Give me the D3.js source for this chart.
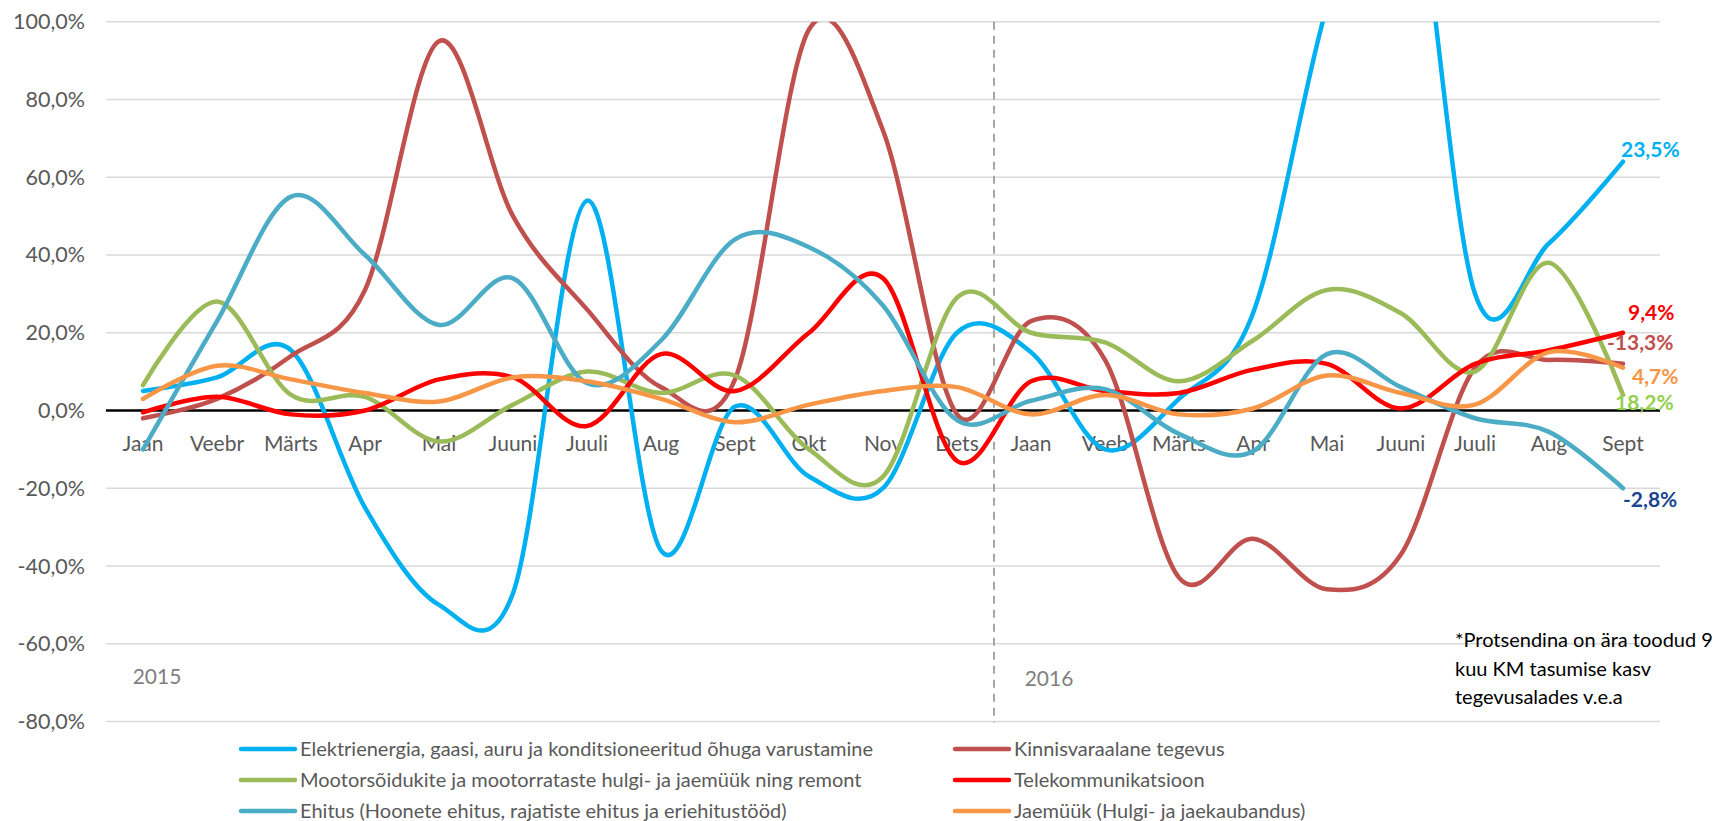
<!DOCTYPE html>
<html>
<head>
<meta charset="utf-8">
<script src="https://cdn.jsdelivr.net/npm/d3@7"></script>
<style>
  body { margin: 0; background: #fff; }
  svg { font-family: Lato, "Open Sans", sans-serif; }
</style>
</head>
<body>
<svg id="chart" width="1716" height="821"></svg>
<script>
// months, 2015 Jaan .. 2016 Sept
var months = ['Jaan','Veebr','Märts','Apr','Mai','Juuni','Juuli','Aug','Sept','Okt','Nov','Dets',
              'Jaan','Veeb','Märts','Apr','Mai','Juuni','Juuli','Aug','Sept'];
var years = ['2015', '2016'];
var yTicks = [-80, -60, -40, -20, 0, 20, 40, 60, 80, 100];

var seriesNames = [
  'Elektrienergia, gaasi, auru ja konditsioneeritud õhuga varustamine',
  'Kinnisvaraalane tegevus',
  'Mootorsõidukite ja mootorrataste hulgi- ja jaemüük ning remont',
  'Telekommunikatsioon',
  'Ehitus (Hoonete ehitus, rajatiste ehitus ja eriehitustööd)',
  'Jaemüük (Hulgi- ja jaekaubandus)'
];

var elekter    = [5, 8.5, 15.5, -25, -50, -47, 54, -36, 1, -17, -20, 20, 15, -10, 3, 25, 104, 155, 30, 43, 64];
var kinnisvara = [-2, 3, 14, 31, 95, 50, 26, 6, 8, 98, 72, -1, 23, 13, -43, -33, -46, -37, 11, 13, 12];
var mootor     = [6.5, 28, 4, 3.5, -8, 1.5, 10, 4.5, 9, -10, -17, 29, 20, 17.5, 7.5, 18, 31, 25, 10, 38, 4];
var telekom    = [-0.5, 3.5, -1, 0, 8, 8.5, -4, 14.5, 5, 20, 34, -13, 7.5, 5, 4.5, 10.5, 12, 0.5, 12, 15.5, 20];
var ehitus     = [-10, 23, 55, 40, 22, 34, 7, 18, 44, 42, 27, -2.5, 2.5, 5.5, -6, -10.5, 14.5, 6, -2, -5.5, -20];
var jaemyyk    = [3, 11.5, 8, 4.5, 2.3, 8.5, 7.5, 3, -3, 1.5, 5, 6, -1, 4, -1, 0.5, 9, 4.5, 1.5, 15, 11];

// labels shown at the end of each line (9 kuu kasv)
var endLabels = ['23,5%', '-13,3%', '18,2%', '9,4%', '-2,8%', '4,7%'];

var note = ['*Protsendina on ära toodud 9', 'kuu KM tasumise kasv', 'tegevusalades v.e.a'];

var allSeries = [elekter, kinnisvara, mootor, telekom, ehitus, jaemyyk];
var colors = ['#00b0f0', '#c0504d', '#9bbb59', '#ff0000', '#4bacc6', '#f79646'];
var labelColors = ['#00b0f0', '#c0504d', '#92d050', '#ff0000', '#1a4590', '#f79646'];
var labelOffsets = [[-2, -12], [-16, -21], [-8, 8], [5, -20], [0, 11], [9, 9]];

var svg = d3.select('#chart');
var plotL = 106, plotR = 1660, plotT = 21.7, plotB = 721.5;

var x = d3.scalePoint()
  .domain(d3.range(months.length))
  .range([plotL, plotR])
  .padding(0.5);

var y = d3.scaleLinear()
  .domain([-80, 100])
  .range([plotB, plotT]);

// gridlines
svg.append('g')
  .selectAll('line')
  .data(yTicks.filter(function(d){ return d !== 0; }))
  .enter().append('line')
  .attr('x1', plotL).attr('x2', plotR)
  .attr('y1', function(d){ return y(d); })
  .attr('y2', function(d){ return y(d); })
  .style('stroke', '#d9d9d9')
  .style('stroke-width', '1.5px');

// y labels
svg.append('g')
  .selectAll('text')
  .data(yTicks)
  .enter().append('text')
  .attr('x', 85)
  .attr('y', function(d){ return y(d); })
  .attr('dy', '0.35em')
  .attr('text-anchor', 'end')
  .style('font-size', '21.5px')
  .style('fill', '#595959')
  .text(function(d){ return d3.format('.1f')(d).replace('.', ',').replace('−', '-') + '%'; });

// year divider
var divX = (x(11) + x(12)) / 2;
svg.append('line')
  .attr('x1', divX).attr('x2', divX)
  .attr('y1', plotT).attr('y2', plotB + 1)
  .style('stroke', '#a6a6a6')
  .style('stroke-width', '2px')
  .style('stroke-dasharray', '8 6');

// month labels
svg.append('g')
  .selectAll('text')
  .data(months)
  .enter().append('text')
  .attr('x', function(d, i){ return x(i); })
  .attr('y', y(0) + 33)
  .attr('dy', '0.35em')
  .attr('text-anchor', 'middle')
  .style('font-size', '21px')
  .style('fill', '#595959')
  .text(function(d){ return d; });

// year labels
svg.append('text')
  .attr('x', x(0) + 14).attr('y', y(-60) + 33)
  .attr('dy', '0.35em').attr('text-anchor', 'middle')
  .style('font-size', '21px').style('fill', '#7f7f7f')
  .text(years[0]);
svg.append('text')
  .attr('x', x(12) + 18).attr('y', y(-60) + 35)
  .attr('dy', '0.35em').attr('text-anchor', 'middle')
  .style('font-size', '21px').style('fill', '#7f7f7f')
  .text(years[1]);

// clip to plot area
svg.append('clipPath').attr('id', 'plotclip')
  .append('rect')
  .attr('x', plotL).attr('y', plotT)
  .attr('width', plotR - plotL).attr('height', plotB - plotT);

var line = d3.line()
  .x(function(d, i){ return x(i); })
  .y(function(d){ return y(d); })
  .curve(d3.curveCardinal.tension(0));

var lines = svg.append('g').attr('clip-path', 'url(#plotclip)');

// zero line
lines.append('line')
  .attr('x1', plotL).attr('x2', plotR)
  .attr('y1', y(0)).attr('y2', y(0))
  .style('stroke', 'black')
  .style('stroke-width', '2.5px');

for (var i = 0; i < allSeries.length; i++) {
  lines.append('path')
    .attr('d', line(allSeries[i]))
    .style('fill', 'none')
    .style('stroke', colors[i])
    .style('stroke-width', '4.5px')
    .style('stroke-linecap', 'round');
}

// end labels
for (var i = 0; i < allSeries.length; i++) {
  var last = allSeries[i].length - 1;
  svg.append('text')
    .attr('x', x(last) + labelOffsets[i][0])
    .attr('y', y(allSeries[i][last]) + labelOffsets[i][1])
    .attr('dy', '0.35em')
    .style('font-size', '21px')
    .style('font-weight', 'bold')
    .style('fill', labelColors[i])
    .text(endLabels[i]);
}

// note
svg.append('g')
  .selectAll('text')
  .data(note)
  .enter().append('text')
  .attr('x', 1455)
  .attr('y', function(d, i){ return 640 + i * 28.5; })
  .attr('dy', '0.35em')
  .style('font-size', '20px')
  .style('fill', '#000')
  .text(function(d){ return d; });

// legend
var legend = svg.append('g');
for (var i = 0; i < seriesNames.length; i++) {
  var col = i % 2, row = Math.floor(i / 2);
  var lx = col === 0 ? 241 : 955;
  var ly = 749 + row * 31;
  legend.append('line')
    .attr('x1', lx).attr('x2', lx + 54)
    .attr('y1', ly).attr('y2', ly)
    .style('stroke', colors[i])
    .style('stroke-width', '4.5px')
    .style('stroke-linecap', 'round');
  legend.append('text')
    .attr('x', lx + 59).attr('y', ly)
    .attr('dy', '0.35em')
    .style('font-size', '20px')
    .style('fill', '#595959')
    .text(seriesNames[i]);
}
</script>
</body>
</html>
